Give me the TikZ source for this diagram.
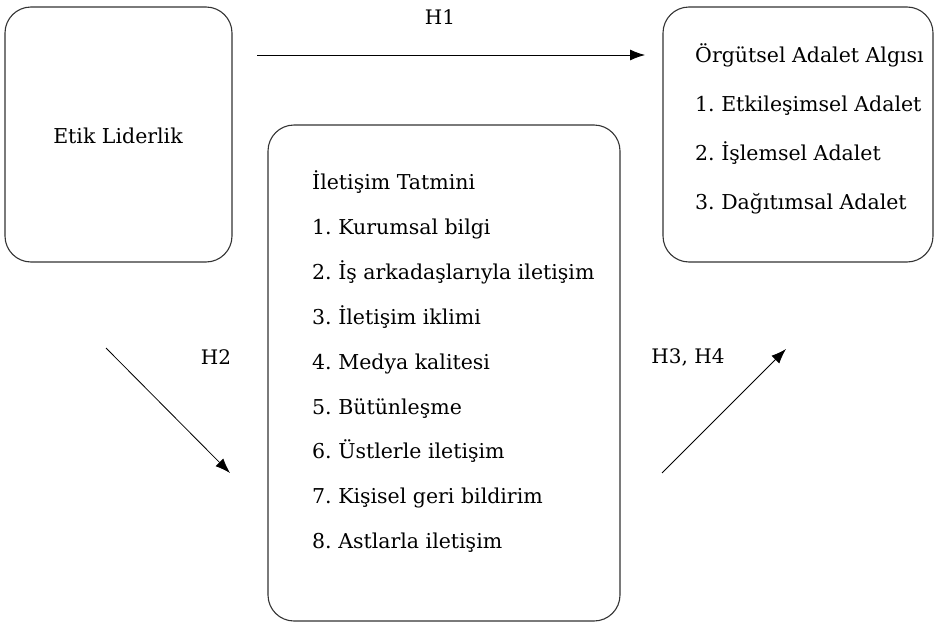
\documentclass[tikz,border=0pt]{standalone}
\usepackage{fontspec}
\setmainfont{DejaVu Serif}
\newfontfamily\hfont{DejaVu Serif}
\usetikzlibrary{arrows.meta}
\frenchspacing
\begin{document}
\begin{tikzpicture}[x=1pt,y=-1pt,
  box/.style={draw=black!80, line width=1.1pt, rounded corners=26pt},
  item/.style={anchor=base west, inner sep=0pt, font=\fontsize{20.5}{24}\selectfont},
  hlab/.style={anchor=base, inner sep=0pt, font=\hfont\fontsize{20}{24}\selectfont},
  arr/.style={line width=0.8pt, -{Latex[length=15pt,width=11pt]}}]
\useasboundingbox (0,0) rectangle (935,624);
\draw[box] (5,7) rectangle (232,262);
\node[item, anchor=base] (etik) at (118,143) {Etik Liderlik};
\draw[box] (663,7) rectangle (933,262);
\draw[box] (268,125) rectangle (620,621);
\node[item] (o0) at (695,62.5) {Örgütsel Adalet Algısı};
\node[item] (o1) at (695,111) {1. Etkileşimsel Adalet};
\node[item] (o2) at (695,160) {2. İşlemsel Adalet};
\node[item] (o3) at (695,209) {3. Dağıtımsal Adalet};
\node[item] (i0) at (312,189.5) {İletişim Tatmini};
\node[item] (i1) at (312,234.4) {1. Kurumsal bilgi};
\node[item] (i2) at (312,279.3) {2. İş arkadaşlarıyla iletişim};
\node[item] (i3) at (312,324.2) {3. İletişim iklimi};
\node[item] (i4) at (312,369.1) {4. Medya kalitesi};
\node[item] (i5) at (312,414) {5. Bütünleşme};
\node[item] (i6) at (312,458.9) {6. Üstlerle iletişim};
\node[item] (i7) at (312,503.8) {7. Kişisel geri bildirim};
\node[item] (i8) at (312,548.7) {8. Astlarla iletişim};
\node[hlab] (h1) at (440,24) {H1};
\node[hlab] (h2) at (216,364) {H2};
\node[hlab] (h34) at (688,363) {H3, H4};
\coordinate (a1s) at (257,55);
\coordinate (a1e) at (645,55);
\coordinate (a2s) at (106,348);
\coordinate (a2e) at (230,473);
\coordinate (a3s) at (662,473);
\coordinate (a3e) at (786,349);
\draw[arr] (a1s) -- (a1e);
\draw[arr] (a2s) -- (a2e);
\draw[arr] (a3s) -- (a3e);
\end{tikzpicture}
\end{document}
